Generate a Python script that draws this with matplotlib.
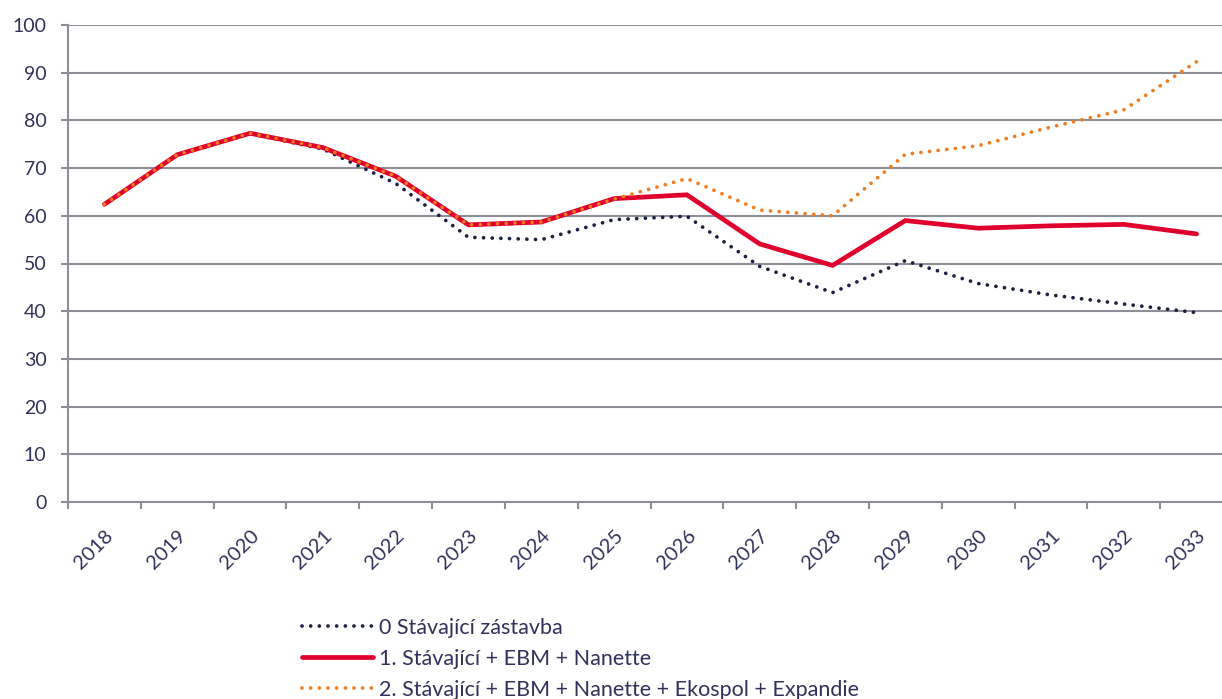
import matplotlib
matplotlib.use("Agg")
import matplotlib.pyplot as plt
import numpy as np

years = ["2018", "2019", "2020", "2021", "2022", "2023", "2024", "2025",
         "2026", "2027", "2028", "2029", "2030", "2031", "2032", "2033"]
s0 = [62.4, 72.8, 77.2, 74.0, 66.8, 55.5, 55.0, 59.2,
      59.9, 49.4, 43.9, 50.6, 45.8, 43.4, 41.5, 39.7]
s1 = [62.4, 72.8, 77.3, 74.3, 68.3, 58.1, 58.7, 63.6,
      64.4, 54.1, 49.6, 59.0, 57.4, 57.9, 58.2, 56.2]
s2 = [62.4, 72.8, 77.3, 74.3, 68.3, 58.1, 58.7, 63.5,
      67.8, 61.2, 60.0, 72.9, 74.7, 78.6, 82.2, 92.3]
labels = ["0 Stávající zástavba",
          "1. Stávající + EBM + Nanette",
          "2. Stávající + EBM + Nanette + Ekospol + Expandie"]
yticks = [0, 10, 20, 30, 40, 50, 60, 70, 80, 90, 100]

plt.rcParams['font.family'] = ['Lato', 'DejaVu Sans']
txt = '#30315c'
grid = '#8e8e98'

W, H = 1222, 699
fig = plt.figure(figsize=(W / 100, H / 100), dpi=100)
ax = fig.add_axes([68 / W, (H - 502) / H, 1165 / W, 477 / H])

x = np.arange(len(years))
dot = (0, (0.01, 2.3))
ax.plot(x, s0, color='#1c2143', lw=2.7, linestyle=dot, dash_capstyle='round',
        label=labels[0], zorder=3)
ax.plot(x, s1, color='#e0002d', lw=3.4, solid_capstyle='round',
        solid_joinstyle='miter', label=labels[1], zorder=4)
ax.plot(x, s2, color='#f07c1e', lw=2.7, linestyle=dot, dash_capstyle='round',
        label=labels[2], zorder=5)

ax.set_xlim(-0.5, len(years) - 0.5)
ax.set_ylim(0, 100)
ax.set_yticks(yticks)
ax.set_yticklabels([str(v) for v in yticks])
ax.yaxis.grid(True, color=grid, lw=1.5)
ax.set_axisbelow(True)

ax.set_xticks(np.arange(-0.5, len(years), 1.0))
ax.set_xticklabels([])
ax.set_xticks(x, minor=True)
ax.set_xticklabels(years, minor=True, rotation=45, ha='right',
                   rotation_mode='anchor')
ax.tick_params(axis='x', which='major', length=5, width=1.5, color=grid,
               direction='out')
ax.tick_params(axis='x', which='minor', length=0, pad=18, labelsize=14.5,
               labelcolor=txt)
ax.tick_params(axis='y', length=5, width=1.5, color=grid, pad=10.5,
               labelsize=14, labelcolor=txt)

for s in ['top', 'right']:
    ax.spines[s].set_visible(False)
for s in ['left', 'bottom']:
    ax.spines[s].set_color(grid)
    ax.spines[s].set_linewidth(1.5)

leg = fig.legend(loc='upper left', bbox_to_anchor=(302 / W, 1 - 618 / H),
                 frameon=False, fontsize=15.5, handlelength=3.3,
                 handletextpad=0.28, labelspacing=0.5, borderaxespad=0,
                 borderpad=0)
for t in leg.get_texts():
    t.set_color(txt)

fig.savefig("out.png", dpi=100)
